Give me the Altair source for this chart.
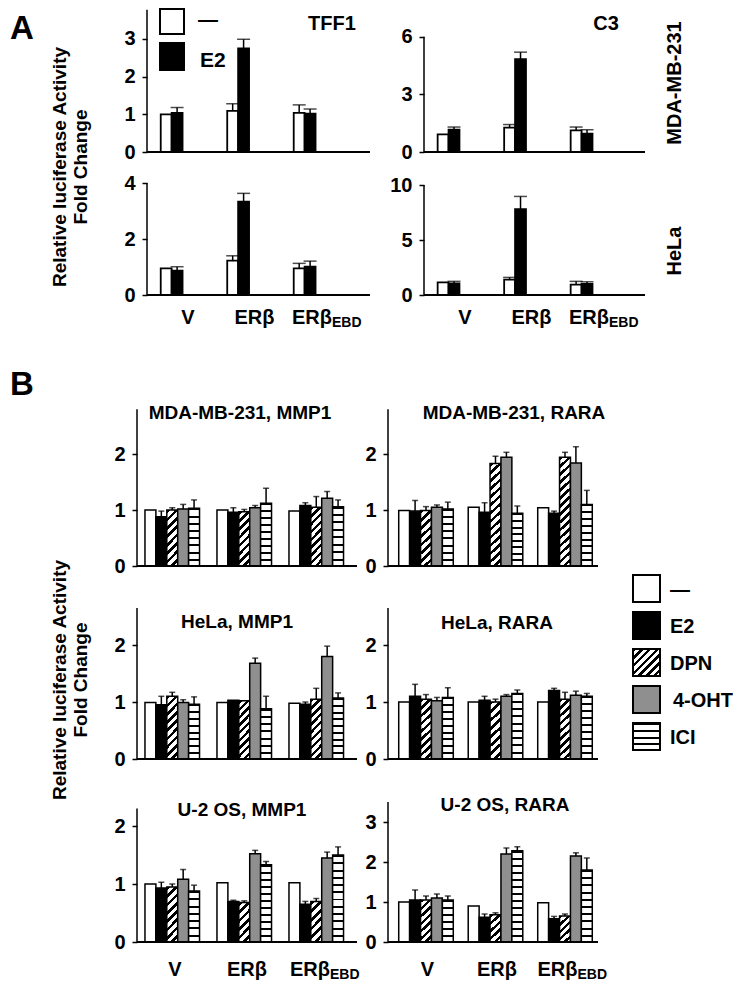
import math
import altair as alt

FONT = "Liberation Sans"
GROUPS = ["V", "ERβ", "ERβEBD"]
TRT_A = ["-", "E2"]
TRT_B = ["-", "E2", "DPN", "4-OHT", "ICI"]

# ---------------- Panel A : values for V, ERβ, ERβEBD ----------------
MDA_TFF1_CTRL = [1.00, 1.09, 1.04]
MDA_TFF1_CTRL_ERR = [0.00, 0.19, 0.21]
MDA_TFF1_E2 = [1.04, 2.75, 1.02]
MDA_TFF1_E2_ERR = [0.14, 0.24, 0.12]

MDA_C3_CTRL = [0.92, 1.27, 1.13]
MDA_C3_CTRL_ERR = [0.00, 0.16, 0.17]
MDA_C3_E2 = [1.16, 4.83, 0.95]
MDA_C3_E2_ERR = [0.14, 0.37, 0.21]

HELA_TFF1_CTRL = [0.95, 1.23, 0.95]
HELA_TFF1_CTRL_ERR = [0.00, 0.17, 0.18]
HELA_TFF1_E2 = [0.87, 3.33, 1.01]
HELA_TFF1_E2_ERR = [0.14, 0.30, 0.20]

HELA_C3_CTRL = [1.15, 1.39, 0.94]
HELA_C3_CTRL_ERR = [0.00, 0.21, 0.30]
HELA_C3_E2 = [1.06, 7.80, 1.00]
HELA_C3_E2_ERR = [0.18, 1.16, 0.20]

# ---------------- Panel B : rows V, ERβ, ERβEBD ; cols -, E2, DPN, 4-OHT, ICI ----------------
MDA_MMP1 = [[1.00, 0.88, 1.00, 1.02, 1.03], [1.00, 0.96, 0.97, 1.04, 1.12], [0.98, 1.08, 1.05, 1.21, 1.06]]
MDA_MMP1_ERR = [[0, 0.10, 0.04, 0.08, 0.15], [0, 0.08, 0.04, 0.04, 0.27], [0, 0.05, 0.19, 0.12, 0.12]]
MDA_RARA = [[0.99, 0.98, 0.99, 1.05, 1.02], [1.05, 0.96, 1.83, 1.94, 0.94], [1.04, 0.94, 1.94, 1.84, 1.10]]
MDA_RARA_ERR = [[0, 0.19, 0.07, 0.04, 0.12], [0, 0.17, 0.13, 0.09, 0.13], [0, 0.04, 0.09, 0.29, 0.25]]
HELA_MMP1 = [[0.99, 0.95, 1.10, 0.99, 0.96], [0.99, 1.03, 1.02, 1.68, 0.88], [0.98, 0.96, 1.05, 1.80, 1.07]]
HELA_MMP1_ERR = [[0, 0.15, 0.07, 0.05, 0.13], [0, 0.00, 0.00, 0.09, 0.22], [0, 0.04, 0.19, 0.18, 0.09]]
HELA_RARA = [[1.00, 1.10, 1.05, 1.02, 1.08], [1.00, 1.03, 1.00, 1.10, 1.15], [1.00, 1.20, 1.05, 1.12, 1.10]]
HELA_RARA_ERR = [[0, 0.21, 0.08, 0.06, 0.17], [0, 0.07, 0.05, 0.03, 0.06], [0, 0.04, 0.12, 0.07, 0.05]]
U2OS_MMP1 = [[1.00, 0.93, 0.95, 1.08, 0.88], [1.02, 0.70, 0.68, 1.52, 1.33], [1.02, 0.65, 0.70, 1.45, 1.50]]
U2OS_MMP1_ERR = [[0, 0.10, 0.05, 0.17, 0.10], [0, 0.02, 0.03, 0.06, 0.06], [0, 0.05, 0.05, 0.10, 0.14]]
U2OS_RARA = [[1.00, 1.05, 1.05, 1.10, 1.05], [0.90, 0.62, 0.68, 2.20, 2.28], [0.98, 0.58, 0.65, 2.15, 1.80]]
U2OS_RARA_ERR = [[0, 0.25, 0.10, 0.10, 0.10], [0, 0.08, 0.05, 0.15, 0.10], [0, 0.06, 0.05, 0.08, 0.30]]


# ---------------- pattern fills (SVG linear gradients) ----------------
def diag_fill(w, h, period=8.0, frac=0.45):
    h = max(h, 2.0)
    k = (w + h) / (w * w + h * h)
    n = max(1, int(round((w + h) / period)))
    stops = []
    for i in range(n):
        a, b, c = i / n, (i + frac) / n, (i + 1) / n
        stops += [{"offset": a, "color": "black"}, {"offset": b, "color": "black"},
                  {"offset": b, "color": "white"}, {"offset": c, "color": "white"}]
    return {"gradient": "linear", "x1": 0, "y1": 0, "x2": k * w, "y2": k * h, "stops": stops}


def hstripe_fill(h, period=7.0, line=2.0):
    h = max(h, 2.0)
    n = max(1, int(round(h / period)))
    f = min(line / h, 0.45 / n)
    stops = []
    for i in range(n):
        a, b, c = i / n, i / n + f, (i + 1) / n
        stops += [{"offset": a, "color": "black"}, {"offset": b, "color": "black"},
                  {"offset": b, "color": "white"}, {"offset": c, "color": "white"}]
    return {"gradient": "linear", "x1": 0, "y1": 0, "x2": 0, "y2": 1, "stops": stops}


def fill_for(trt, w, h):
    if trt == "-":
        return "white"
    if trt == "E2":
        return "black"
    if trt == "DPN":
        return diag_fill(w, h)
    if trt == "4-OHT":
        return "#8f8f8f"
    return hstripe_fill(h)


def a_rows(ctrl, ctrl_err, e2, e2_err, U, bw):
    rows = []
    for i, g in enumerate(GROUPS):
        for t, v, e in (("-", ctrl[i], ctrl_err[i]), ("E2", e2[i], e2_err[i])):
            rows.append(dict(group=g, trt=t, value=v, err=e, top=v + e, fill=fill_for(t, bw, v * U)))
    return rows


def b_rows(vals, errs, U, bw):
    rows = []
    for i, g in enumerate(GROUPS):
        for j, t in enumerate(TRT_B):
            v, e = vals[i][j], errs[i][j]
            rows.append(dict(group=g, trt=t, value=v, err=e, top=v + e, fill=fill_for(t, bw, v * U)))
    return rows


def txt(t, x, y, size=20, angle=0, align="center", baseline="middle"):
    return alt.Chart(alt.Data(values=[{"t": t}])).mark_text(
        font=FONT, fontWeight="bold", fontSize=size, angle=angle, align=align,
        baseline=baseline, color="black").encode(x=alt.value(x), y=alt.value(y), text="t:N")


def swatch(fill, x, y, w, h, sw=2):
    return alt.Chart(alt.Data(values=[{"fill": fill}])).mark_rect(stroke="black", strokeWidth=sw).encode(
        x=alt.value(x), x2=alt.value(x + w), y=alt.value(y), y2=alt.value(y + h),
        fill=alt.Fill("fill:N", scale=None))


def text_cell(W, H, layers):
    if not layers:
        layers = [txt("", W / 2, H / 2, size=4)]
    return alt.layer(*layers).properties(width=W, height=H)


def bar_cell(rows, trts, W, H, U, axis_top, ticks, axis_x, xline_end, po, al, opo, cap, sw,
             extra=(), xlabels=False, lab_dy=23, sub_dx=11, sub_size=14):
    xs = alt.Scale(domain=GROUPS, paddingInner=0, paddingOuter=po, align=al)
    x = alt.X("group:N", sort=GROUPS, scale=xs, axis=None)
    xo = alt.XOffset("trt:N", sort=trts, scale=alt.Scale(domain=trts, paddingInner=0, paddingOuter=opo))
    ys = alt.Scale(domain=[0, H / U], nice=False, zero=True)
    yaxis = alt.Axis(values=ticks, domain=False, grid=False, tickSize=5, tickWidth=1.5,
                     tickColor="black", labelFont=FONT, labelFontWeight="bold", labelFontSize=20,
                     labelColor="black", labelPadding=7, title=None, format="d", offset=-axis_x)
    bars = alt.Chart(alt.Data(values=rows)).mark_bar(stroke="black", strokeWidth=sw).encode(
        x=x, xOffset=xo, y=alt.Y("value:Q", scale=ys, axis=yaxis),
        fill=alt.Fill("fill:N", scale=None))
    erows = [r for r in rows if r["err"] > 0]
    edata = alt.Data(values=erows)
    erule = alt.Chart(edata).mark_rule(color="black", strokeWidth=1.5).encode(
        x=x, xOffset=xo, y=alt.Y("value:Q", scale=ys, axis=yaxis), y2="top:Q")
    ecap = alt.Chart(edata).mark_tick(color="black", thickness=1.5, size=cap, orient="horizontal").encode(
        x=x, xOffset=xo, y=alt.Y("top:Q", scale=ys, axis=yaxis))
    yline = alt.Chart(alt.Data(values=[{"a": 0, "b": axis_top}])).mark_rule(
        color="black", strokeWidth=1.5).encode(
        x=alt.value(axis_x), y=alt.Y("a:Q", scale=ys, axis=yaxis), y2="b:Q")
    xline = alt.Chart(alt.Data(values=[{"a": 0}])).mark_rule(color="black", strokeWidth=2).encode(
        x=alt.value(axis_x), x2=alt.value(xline_end), y=alt.value(H))
    layers = [bars, erule, ecap, yline, xline]
    if xlabels:
        main = alt.Chart(alt.Data(values=[{"group": "V", "t": "V"}, {"group": "ERβ", "t": "ERβ"}])).mark_text(
            font=FONT, fontWeight="bold", fontSize=20, color="black", baseline="middle").encode(
            x=x, y=alt.value(H + lab_dy), text="t:N")
        m3 = alt.Chart(alt.Data(values=[{"group": "ERβEBD", "t": "ERβ"}])).mark_text(
            font=FONT, fontWeight="bold", fontSize=20, color="black", baseline="middle",
            align="right", dx=sub_dx).encode(x=x, y=alt.value(H + lab_dy), text="t:N")
        s3 = alt.Chart(alt.Data(values=[{"group": "ERβEBD", "t": "EBD"}])).mark_text(
            font=FONT, fontWeight="bold", fontSize=sub_size, color="black", baseline="middle",
            align="left", dx=sub_dx).encode(x=x, y=alt.value(H + lab_dy + 5), text="t:N")
        layers += [main, m3, s3]
    layers += list(extra)
    return alt.layer(*layers).properties(width=W, height=H)


# ---------------- geometry ----------------
R1, R2, R3, R4, R5 = 144, 143, 271, 193, 183
COLS = [129, 233, 18, 257, 55]
A_BW, B1_BW, B2_BW = 21.5, 11.2, 10.3
A1 = dict(axis_x=10, xline_end=233, po=0.252, al=0.53, opo=0.547, cap=13, sw=1.8)
A2 = dict(axis_x=36, xline_end=257, po=0.432, al=0.76, opo=0.547, cap=13, sw=1.8)
B1 = dict(axis_x=0, xline_end=220, po=0.118, al=0.118, opo=0.71, cap=6, sw=1.5)
B2 = dict(axis_x=0, xline_end=210, po=0.349, al=0.098, opo=0.87, cap=6, sw=1.5)

# ---------------- Panel A cells ----------------
leftA1 = text_cell(COLS[0], R1, [
    txt("A", 2, 31, size=33, align="left", baseline="alphabetic"),
    txt("Relative luciferase Activity", 52, 159, size=19, angle=270),
    txt("Fold Change", 73, 159, size=19, angle=270),
])
U = 37.7
TL = bar_cell(a_rows(MDA_TFF1_CTRL, MDA_TFF1_CTRL_ERR, MDA_TFF1_E2, MDA_TFF1_E2_ERR, U, A_BW), TRT_A,
              COLS[1], R1, U, 3.77, [0, 1, 2, 3], extra=[
                  swatch("white", 23, 1, 24, 25), swatch("black", 23, 35, 24, 27),
                  txt("—", 61, 12, size=20, align="left"), txt("E2", 63, 53, size=21, align="left"),
                  txt("TFF1", 195, 16, size=20)], **A1)
gapA1 = text_cell(COLS[2], R1, [])
U = 19.2
TR = bar_cell(a_rows(MDA_C3_CTRL, MDA_C3_CTRL_ERR, MDA_C3_E2, MDA_C3_E2_ERR, U, A_BW), TRT_A,
              COLS[3], R1, U, 6, [0, 3, 6], extra=[txt("C3", 218, 16, size=20)], **A2)
rightA1 = text_cell(COLS[4], R1, [txt("MDA-MB-231", 30, 75, size=20, angle=270)])

leftA2 = text_cell(COLS[0], R2, [])
U = 28.0
BL = bar_cell(a_rows(HELA_TFF1_CTRL, HELA_TFF1_CTRL_ERR, HELA_TFF1_E2, HELA_TFF1_E2_ERR, U, A_BW), TRT_A,
              COLS[1], R2, U, 4, [0, 2, 4], xlabels=True, lab_dy=23, **A1)
gapA2 = text_cell(COLS[2], R2, [])
U = 11.0
BR = bar_cell(a_rows(HELA_C3_CTRL, HELA_C3_CTRL_ERR, HELA_C3_E2, HELA_C3_E2_ERR, U, A_BW), TRT_A,
              COLS[3], R2, U, 10, [0, 5, 10], xlabels=True, lab_dy=23, **A2)
rightA2 = text_cell(COLS[4], R2, [txt("HeLa", 30, 99, size=20, angle=270)])

# ---------------- Panel B cells ----------------
leftB1 = text_cell(COLS[0], R3, [txt("B", 2, 100, size=33, align="left", baseline="alphabetic")])
U = 56.0
MM1 = bar_cell(b_rows(MDA_MMP1, MDA_MMP1_ERR, U, B1_BW), TRT_B, COLS[1], R3, U, 2.8, [0, 1, 2],
               extra=[txt("MDA-MB-231, MMP1", 103, 118, size=19)], **B1)
gapB1 = text_cell(COLS[2], R3, [])
MR1 = bar_cell(b_rows(MDA_RARA, MDA_RARA_ERR, U, B2_BW), TRT_B, COLS[3], R3, U, 2.8, [0, 1, 2],
               extra=[txt("MDA-MB-231, RARA", 126, 118, size=19)], **B2)
rightB1 = text_cell(COLS[4], R3, [])

leftB2 = text_cell(COLS[0], R4, [
    txt("Relative luciferase Activity", 52, 114, size=19, angle=270),
    txt("Fold Change", 73, 114, size=19, angle=270),
])
U = 57.0
HM1 = bar_cell(b_rows(HELA_MMP1, HELA_MMP1_ERR, U, B1_BW), TRT_B, COLS[1], R4, U, 2.65, [0, 1, 2],
               extra=[txt("HeLa, MMP1", 100, 56, size=19)], **B1)
gapB2 = text_cell(COLS[2], R4, [])
LEG_LABELS = ["—", "E2", "DPN", "4-OHT", "ICI"]
leg_layers = []
for i, t in enumerate(TRT_B):
    top = 9 + 37 * i
    leg_layers.append(swatch(fill_for(t, 27, 27), 245, top, 27, 27, sw=2))
    leg_layers.append(txt(LEG_LABELS[i], 285 if t == "4-OHT" else 282, top + 15, size=20, align="left"))
HR1 = bar_cell(b_rows(HELA_RARA, HELA_RARA_ERR, U, B2_BW), TRT_B, COLS[3], R4, U, 2.65, [0, 1, 2],
               extra=[txt("HeLa, RARA", 109, 57, size=19)] + leg_layers, **B2)
rightB2 = text_cell(COLS[4], R4, [])

leftB3 = text_cell(COLS[0], R5, [])
U = 58.0
UM1 = bar_cell(b_rows(U2OS_MMP1, U2OS_MMP1_ERR, U, B1_BW), TRT_B, COLS[1], R5, U, 2.3, [0, 1, 2],
               xlabels=True, lab_dy=28, extra=[txt("U-2 OS, MMP1", 105, 51, size=19)], **B1)
gapB3 = text_cell(COLS[2], R5, [])
U = 40.0
UR1 = bar_cell(b_rows(U2OS_RARA, U2OS_RARA_ERR, U, B2_BW), TRT_B, COLS[3], R5, U, 3.5, [0, 1, 2, 3],
               xlabels=True, lab_dy=28, extra=[txt("U-2 OS, RARA", 117, 46, size=19)], **B2)
rightB3 = text_cell(COLS[4], R5, [])

cells = [leftA1, TL, gapA1, TR, rightA1,
         leftA2, BL, gapA2, BR, rightA2,
         leftB1, MM1, gapB1, MR1, rightB1,
         leftB2, HM1, gapB2, HR1, rightB2,
         leftB3, UM1, gapB3, UR1, rightB3]

chart = alt.concat(*cells, columns=5, spacing=0, bounds="flush").properties(
    padding=0).configure(font=FONT, background="white").configure_view(stroke=None)

chart.save("out.html", embed_options={"renderer": "svg", "actions": False})
